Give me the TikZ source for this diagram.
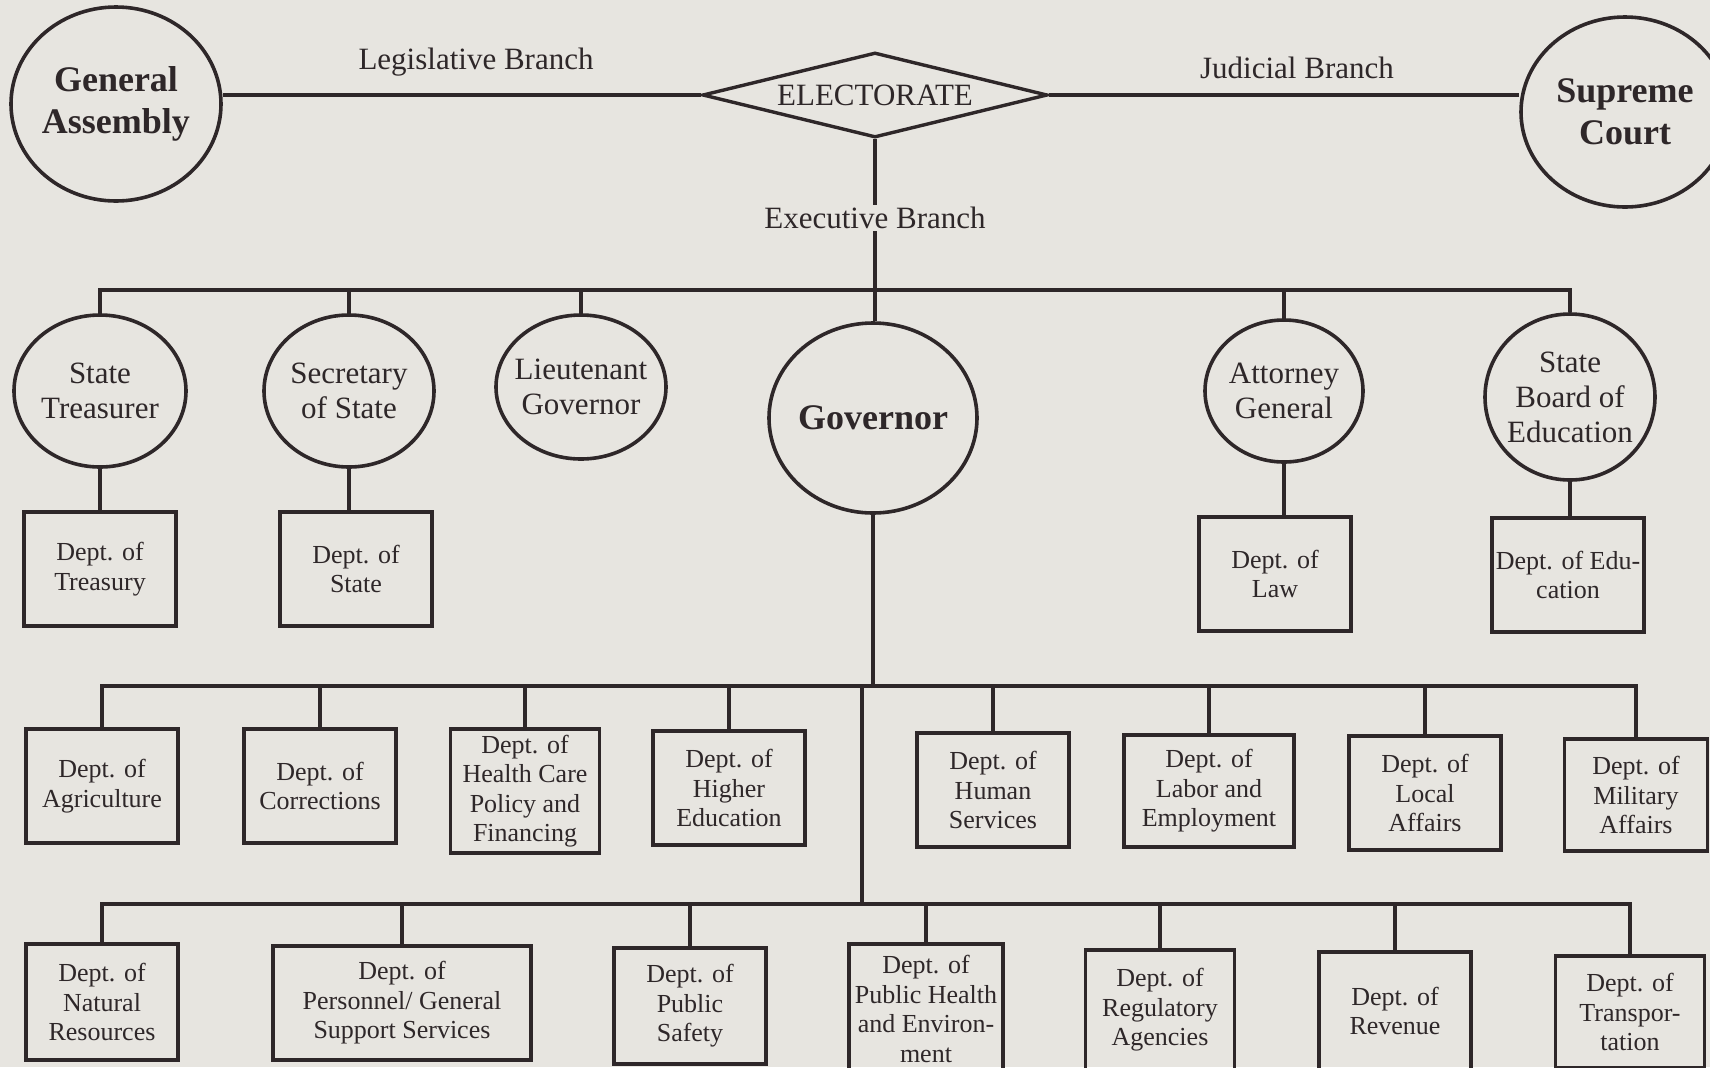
\documentclass[tikz,border=0pt]{standalone}
\usepackage{fontspec}
\setmainfont{Liberation Serif}
\usepackage{xcolor}
\usepackage{tikz}
\usetikzlibrary{shapes.geometric, positioning}
\definecolor{ink}{HTML}{2E2729}
\definecolor{paper}{HTML}{E7E5E0}
\tikzset{
    office/.style={ellipse, draw=ink, line width=1.8pt, inner xsep=-8pt, inner ysep=0pt, align=center, text=ink, font=\fontsize{15.5}{17.5}\selectfont},
    head/.style={office, font=\bfseries\fontsize{18}{21}\selectfont},
    dept/.style={rectangle, draw=ink, line width=1.9pt, inner sep=0pt, align=center, text=ink, minimum width=76pt, minimum height=57pt, font=\fontsize{13}{14.75}\selectfont},
    branch/.style={inner sep=1pt, text=ink, font=\fontsize{15.5}{17.5}\selectfont},
    link/.style={draw=ink, line width=1.7pt},
}

\begin{document}
\begin{tikzpicture}[x=0.5pt, y=-0.5pt]
        \fill[paper] (0,0) rectangle (1710,1067);
        \useasboundingbox (0,0) rectangle (1710,1067);
        % branches
        \node[head, minimum width=105pt, minimum height=97pt] (ga) at (116,104) {General\\Assembly};
        \node[head, minimum width=104pt, minimum height=95pt] (sc) at (1625,112) {Supreme\\Court};
        \node[diamond, draw=ink, line width=1.7pt, inner sep=0pt, shape aspect=4, minimum width=172.5pt, minimum height=42.5pt, text=ink, font=\fontsize{15.5}{17.5}\selectfont] (elect) at (875,95) {ELECTORATE};
        \node[branch] (leg) at (476,62) {Legislative Branch};
        \node[branch] (jud) at (1297,68) {Judicial Branch};
        \node[branch] (exec) at (875,218) {Executive Branch};
        \draw[link] (elect.west) -- (elect.west -| ga.east);
        \draw[link] (elect.east) -- (elect.east -| sc.west);
        % elected officials
        \node[office, minimum width=86pt, minimum height=76pt] (treas) at (100,391) {State\\Treasurer};
        \node[office, minimum width=85pt, minimum height=76pt] (sos) at (349,391) {Secretary\\of State};
        \node[office, minimum width=85pt, minimum height=72pt] (ltgov) at (581,387) {Lieutenant\\Governor};
        \node[head, minimum width=104pt, minimum height=95pt] (gov) at (873,418) {Governor};
        \node[office, minimum width=79pt, minimum height=71pt] (ag) at (1284,391) {Attorney\\General};
        \node[office, minimum width=85pt, minimum height=83pt] (sbe) at (1570,397) {State\\Board of\\Education};
        \coordinate (exbar) at (875,290);
        \draw[link] (elect.south) -- (exec.north);
        \draw[link] (exec.south) -- (exec.south |- gov.north);
        \draw[link] (treas.north) |- (exbar) -| (sbe.north);
        \foreach \n in {sos, ltgov, ag}
            \draw[link] (\n.north) -- (\n.north |- exbar);
        % departments
        \node[dept] (dtreas) at (100,569) {Dept. of\\Treasury};
        \node[dept] (dstate) at (356,569) {Dept. of\\State};
        \node[dept] (dlaw) at (1275,574) {Dept. of\\Law};
        \node[dept] (dedu) at (1568,575) {Dept. of Edu-\\cation};
        \foreach \a/\b in {treas/dtreas, sos/dstate, ag/dlaw, sbe/dedu}
            \draw[link] (\a.south) -- (\a.south |- \b.north);
        \node[dept] (dagri) at (102,786) {Dept. of\\Agriculture};
        \node[dept] (dcorr) at (320,786) {Dept. of\\Corrections};
        \node[dept, minimum width=74.5pt, minimum height=62pt] (dhcpf) at (525,791) {Dept. of\\Health Care\\Policy and\\Financing};
        \node[dept] (dhied) at (729,788) {Dept. of\\Higher\\Education};
        \node[dept] (dhum) at (993,790) {Dept. of\\Human\\Services};
        \node[dept, minimum width=85pt, minimum height=56pt] (dlab) at (1209,791) {Dept. of\\Labor and\\Employment};
        \node[dept] (dloc) at (1425,793) {Dept. of\\Local\\Affairs};
        \node[dept, minimum width=71.5pt, minimum height=56pt] (dmil) at (1636,795) {Dept. of\\Military\\Affairs};
        \coordinate (row2) at (873,686);
        \draw[link] (gov.south) -- (row2);
        \draw[link] (dagri.north) |- (row2) -| (dmil.north);
        \foreach \n in {dcorr, dhcpf, dhied, dhum, dlab, dloc}
            \draw[link] (\n.north) -- (\n.north |- row2);
        \node[dept, minimum height=58pt] (dnat) at (102,1002) {Dept. of\\Natural\\Resources};
        \node[dept, minimum width=129pt] (dpers) at (402,1003) {Dept. of\\Personnel/ General\\Support Services};
        \node[dept, minimum height=58pt] (dsafe) at (690,1006) {Dept. of\\Public\\Safety};
        \node[dept, minimum width=77pt, minimum height=65pt] (dhealth) at (926,1009) {Dept. of\\Public Health\\and Environ-\\ment};
        \node[dept, minimum width=74.5pt, minimum height=60pt] (dreg) at (1160,1010) {Dept. of\\Regulatory\\Agencies};
        \node[dept, minimum height=59pt] (drev) at (1395,1011) {Dept. of\\Revenue};
        \node[dept, minimum width=74.5pt, minimum height=56pt] (dtrans) at (1630,1012) {Dept. of\\Transpor-\\tation};
        \coordinate (split) at (862,686);
        \coordinate (row3) at (862,904);
        \draw[link] (split) -- (row3);
        \draw[link] (dnat.north) |- (row3) -| (dtrans.north);
        \foreach \n in {dpers, dsafe, dhealth, dreg, drev}
            \draw[link] (\n.north) -- (\n.north |- row3);
\end{tikzpicture}
\end{document}
